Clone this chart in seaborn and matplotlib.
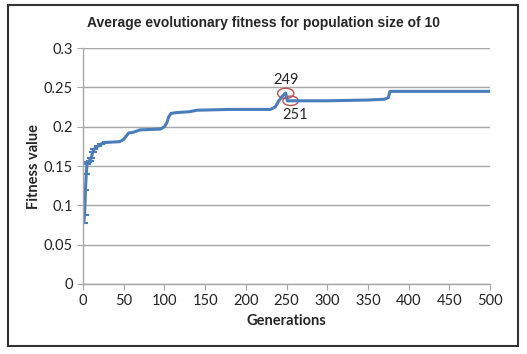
import matplotlib
matplotlib.use("Agg")
import matplotlib.pyplot as plt
from matplotlib.patches import Ellipse, Rectangle
import seaborn as sns
import pandas as pd

generations = [1, 2, 3, 4, 5, 6, 8, 10, 12, 14, 18, 22, 28, 45, 50, 53, 56, 62, 70, 95,
               100, 103, 105, 108, 115, 130, 140, 180, 230, 236, 240, 244, 249,
               251, 300, 350, 370, 375, 377, 500]
fitness = [0.078, 0.088, 0.12, 0.14, 0.152, 0.155, 0.157, 0.16, 0.168, 0.172, 0.175, 0.178,
           0.18, 0.181, 0.184, 0.188, 0.192, 0.193, 0.196, 0.197,
           0.2, 0.205, 0.212, 0.217, 0.218, 0.219, 0.221, 0.222, 0.222, 0.225, 0.232, 0.238, 0.243,
           0.233, 0.233, 0.234, 0.235, 0.237, 0.245, 0.245]

df = pd.DataFrame({"Generations": generations, "Fitness value": fitness})

sns.set_style("white")
plt.rcParams["font.family"] = ["Lato", "DejaVu Sans"]

fig = plt.figure(figsize=(5.27, 3.54), dpi=100)
ax = fig.add_axes([0.1575, 0.198, 0.7725, 0.666])

sns.lineplot(data=df, x="Generations", y="Fitness value", ax=ax, color="#4a7ebb",
             linewidth=2.2)
# small dash markers on the early generations
sns.scatterplot(data=df.head(13), x="Generations", y="Fitness value", ax=ax,
                color="#4a7ebb", marker="_", s=30, linewidth=1.5)

ax.set_xlim(0, 500)
ax.set_ylim(0, 0.3)
ax.set_xticks(range(0, 501, 50))
ax.set_yticks([0, 0.05, 0.1, 0.15, 0.2, 0.25, 0.3])
ax.set_yticklabels(["0", "0.05", "0.1", "0.15", "0.2", "0.25", "0.3"])
ax.yaxis.grid(True, color="#a6a6a6", linewidth=1)
ax.xaxis.grid(False)
for s in ["top", "right"]:
    ax.spines[s].set_visible(False)
for s in ["left", "bottom"]:
    ax.spines[s].set_color("#a6a6a6")
    ax.spines[s].set_linewidth(1)
ax.tick_params(axis="both", direction="out", length=4, color="#a6a6a6",
               labelsize=10.5, labelcolor="#222222", bottom=True, left=True)
ax.set_xlabel("Generations", fontsize=10.5, fontweight="bold")
ax.set_ylabel("Fitness value", fontsize=10.5, fontweight="bold", labelpad=2)

fig.suptitle("Average evolutionary fitness for population size of 10", x=0.5, y=0.955,
             family=["Liberation Sans", "DejaVu Sans"], fontweight="bold", fontsize=10)

ax.add_patch(Ellipse((249, 0.2425), 20, 0.013, fill=False, edgecolor="#c0504d", linewidth=1))
ax.add_patch(Ellipse((255, 0.233), 19, 0.012, fill=False, edgecolor="#c0504d", linewidth=1))
ax.text(249, 0.26, "249", ha="center", va="center", fontsize=10.5)
ax.text(261, 0.2145, "251", ha="center", va="center", fontsize=10.5)

fig.patches.append(Rectangle((8 / 527, 8 / 354), 510 / 527, 341 / 354, transform=fig.transFigure,
                             fill=False, edgecolor="#333333", linewidth=1.5))

fig.savefig("out.png", dpi=100)
